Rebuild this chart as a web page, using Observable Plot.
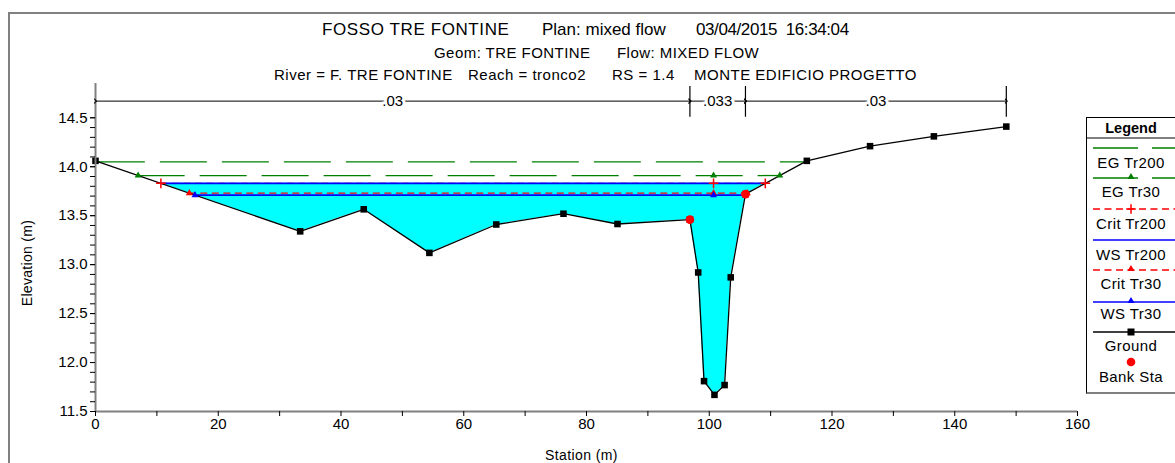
<!DOCTYPE html>
<html><head><meta charset="utf-8">
<script src="https://cdn.jsdelivr.net/npm/d3@7"></script>
<script src="https://cdn.jsdelivr.net/npm/@observablehq/plot@0.6"></script>
<style>
html,body{margin:0;padding:0;overflow:hidden;background:#fff;}
#wrap{position:relative;width:1175px;height:463px;font-family:"Liberation Sans",Arial,sans-serif;color:#000;overflow:hidden;}
#frame{position:absolute;left:8px;top:12px;width:1300px;height:600px;border-left:2px solid #808080;border-top:2px solid #808080;}
.t{position:absolute;white-space:pre;line-height:1;}
#chart{position:absolute;left:0;top:0;}
#legend{position:absolute;left:1086px;top:117px;width:92px;height:274px;border:1px solid #000;border-bottom:2px solid #808080;background:#fff;}
</style></head><body><div id="wrap"><div id="frame"></div><div id="chart"></div></div>
<script>
// ---------- data ----------
const groundStation = [0, 33.35, 43.7, 54.4, 65.3, 76.25, 85.05, 96.85, 98.2, 99.15, 100.85, 102.5, 103.5, 105.9, 115.9, 126.2, 136.6, 148.4];
const groundElev    = [14.06, 13.34, 13.565, 13.12, 13.41, 13.52, 13.415, 13.46, 12.92, 11.81, 11.67, 11.77, 12.87, 13.72, 14.06, 14.21, 14.31, 14.41];
const bankStation = [96.85, 105.9];
const profileName = ["EG Tr200", "EG Tr30", "Crit Tr200", "WS Tr200", "Crit Tr30", "WS Tr30"];
const profileElev = [14.05, 13.91, 13.83, 13.83, 13.73, 13.71];
const profileMidStation = 100.7;
const nValue = [".03", ".033", ".03"];
const nStation = [0, 96.85, 105.9, 148.4];
const xTickLabels = [0, 20, 40, 60, 80, 100, 120, 140, 160];
const xMinorTicks = [10, 30, 50, 70, 90, 110, 130, 150];
const yTickLabels = [11.5, 12.0, 12.5, 13.0, 13.5, 14.0, 14.5];
const yMinorTicks = d3.range(115, 146).map(d => d / 10);
const legendNames = ["EG Tr200", "EG Tr30", "Crit Tr200", "WS Tr200", "Crit Tr30", "WS Tr30", "Ground", "Bank Sta"];
const titleLine1 = ["FOSSO TRE FONTINE", "Plan: mixed flow", "03/04/2015  16:34:04"];
const titleLine2 = ["Geom: TRE FONTINE", "Flow: MIXED FLOW"];
const titleLine3 = ["River = F. TRE FONTINE", "Reach = tronco2", "RS = 1.4", "MONTE EDIFICIO PROGETTO"];

// ---------- styles / layout ----------
const styles = {
  "EG Tr200":  {stroke: "#008000", dash: "47,15", width: 1.3, symbol: null},
  "EG Tr30":   {stroke: "#008000", dash: "47,15", width: 1.3, symbol: "triangle"},
  "Crit Tr200":{stroke: "#ff0000", dash: "7,4.5", width: 1.3, symbol: "plus"},
  "WS Tr200":  {stroke: "#0000ff", dash: null, width: 1.6, symbol: null},
  "Crit Tr30": {stroke: "#ff0000", dash: "7,4.5", width: 1.3, symbol: "triangle"},
  "WS Tr30":   {stroke: "#0000ff", dash: null, width: 1.6, symbol: "triangle"}
};
const nBarElev = 14.67, nTickTop = 14.82, nTickBottom = 14.505;

// ---------- derived ----------
const ground = groundStation.map((x, i) => ({x, e: groundElev[i]}));
function crossings(level) {
  const xs = [];
  for (let i = 0; i < ground.length - 1; i++) {
    const a = ground[i], b = ground[i + 1];
    if ((a.e - level) * (b.e - level) < 0) xs.push(a.x + (level - a.e) / (b.e - a.e) * (b.x - a.x));
  }
  return [d3.min(xs), d3.max(xs)];
}
const profiles = profileName.map((name, i) => {
  const [left, right] = crossings(profileElev[i]);
  return {name, elev: profileElev[i], left, right};
});
const wsTop = profiles.find(p => p.name === "WS Tr200");
const water = [{x: wsTop.left, g: wsTop.elev}]
  .concat(ground.filter(d => d.x > wsTop.left && d.x < wsTop.right).map(d => ({x: d.x, g: d.e})))
  .concat([{x: wsTop.right, g: wsTop.elev}]);
const banks = bankStation.map(x => ({x, e: ground.find(d => d.x === x).e}));
const nSegs = nValue.map((v, i) => ({v, x1: nStation[i], x2: nStation[i + 1]}));

const marks = [];
marks.push(Plot.areaY(water, {x: "x", y1: "g", y2: () => wsTop.elev, fill: "#00ffff"}));
for (const p of profiles) {
  const s = styles[p.name];
  marks.push(Plot.ruleY([p], {y: "elev", x1: "left", x2: "right", stroke: s.stroke, strokeWidth: s.width, strokeDasharray: s.dash || undefined}));
}
marks.push(Plot.line(ground, {x: "x", y: "e", stroke: "#000", strokeWidth: 1.3}));
marks.push(Plot.dot(ground, {x: "x", y: "e", symbol: "square", r: 3.7, fill: "#000"}));
for (const p of profiles) {
  const s = styles[p.name];
  if (!s.symbol) continue;
  const pts = [p.left, profileMidStation, p.right].map(x => ({x, e: p.elev}));
  if (s.symbol === "plus") marks.push(Plot.dot(pts, {x: "x", y: "e", symbol: "plus", r: 3.2, stroke: s.stroke, strokeWidth: 1.5}));
  else marks.push(Plot.dot(pts, {x: "x", y: "e", symbol: s.symbol, r: 2.6, fill: s.stroke, stroke: "none"}));
}
marks.push(Plot.dot(banks, {x: "x", y: "e", r: 4.3, fill: "#ff0000"}));
// axes
marks.push(Plot.ruleY([11.5], {stroke: "#808080", strokeWidth: 2}));
marks.push(Plot.ruleX([0], {y1: 11.5, y2: 14.85, stroke: "#808080", strokeWidth: 2}));
marks.push(Plot.axisX({ticks: xTickLabels, tickSize: 5, tickPadding: 2, fontSize: 15, label: null, tickFormat: d => String(d)}));
marks.push(Plot.axisX({ticks: xMinorTicks, tickSize: 5, label: null, tickFormat: () => ""}));
marks.push(Plot.axisY({ticks: yTickLabels, tickSize: 5, tickPadding: 3, fontSize: 15, label: null, tickFormat: d3.format(".1f")}));
marks.push(Plot.axisY({ticks: yMinorTicks, tickSize: 5, label: null, tickFormat: () => ""}));
// Manning's n bar
marks.push(Plot.link(nSegs, {x1: "x1", x2: "x2", y1: () => nBarElev, y2: () => nBarElev, stroke: "#000", strokeWidth: 1, markerStart: "arrow", markerEnd: "arrow"}));
marks.push(Plot.ruleX(nStation.slice(1), {y1: nTickBottom, y2: nTickTop, stroke: "#000", strokeWidth: 1.2}));
marks.push(Plot.text(nSegs, {x: d => (d.x1 + d.x2) / 2, y: () => nBarElev, text: "v", fontSize: 15, fill: "#000", stroke: "#fff", strokeWidth: 6}));

const chart = Plot.plot({
  width: 1175, height: 463,
  marginLeft: 95, marginRight: 98, marginTop: 83, marginBottom: 52,
  x: {domain: [0, 160]},
  y: {domain: [11.5, 14.85]},
  style: {fontFamily: "'Liberation Sans', Arial, sans-serif", background: "transparent", color: "#000", overflow: "visible"},
  marks
});
document.getElementById("chart").appendChild(chart);

// ---------- text overlays ----------
const wrap = document.getElementById("wrap");
function addText(str, left, top, size, extra) {
  const d = document.createElement("div");
  d.className = "t";
  d.textContent = str;
  d.style.left = left + "px"; d.style.top = top + "px"; d.style.fontSize = size + "px";
  if (extra) Object.assign(d.style, extra);
  wrap.appendChild(d);
  return d;
}
const l1x = [322, 542, 696], l2x = [434, 617], l3x = [274, 468, 612, 694];
const l1sp = ["0.6px", "0px", "-0.4px"];
titleLine1.forEach((s, i) => addText(s, l1x[i], 21, 17, {letterSpacing: l1sp[i]}));
titleLine2.forEach((s, i) => addText(s, l2x[i], 45, 15, {letterSpacing: "0.45px"}));
titleLine3.forEach((s, i) => addText(s, l3x[i], 67, 15, {letterSpacing: "0.5px"}));
addText("Station (m)", 545, 448, 14, {letterSpacing: "0.4px"});
addText("Elevation (m)", -18, 256, 14, {transform: "rotate(-90deg)", transformOrigin: "50% 50%", width: "90px", textAlign: "center", letterSpacing: "0.3px"});

// ---------- legend ----------
const lg = document.createElement("div");
lg.id = "legend";
wrap.appendChild(lg);
const lsvg = d3.select(lg).append("svg").attr("width", 92).attr("height", 274).style("position", "absolute").style("left", "0px").style("top", "0px");
lsvg.append("line").attr("x1", 0).attr("x2", 92).attr("y1", 20).attr("y2", 20).attr("stroke", "#000");
lsvg.append("text").attr("x", 44).attr("y", 15).attr("text-anchor", "middle").attr("font-weight", "bold").attr("font-size", 14.5).attr("font-family", "'Liberation Sans', Arial").text("Legend");
const lineY = [30, 60, 91, 122, 152, 184, 214, 244];
const labelY = [50, 79, 111, 142, 171, 201, 233, 264];
legendNames.forEach((name, i) => {
  const s = styles[name];
  const cx = 44;
  if (s) {
    lsvg.append("line").attr("x1", 6).attr("x2", 92).attr("y1", lineY[i]).attr("y2", lineY[i])
      .attr("stroke", s.stroke).attr("stroke-width", s.width).attr("stroke-dasharray", s.dash === "47,15" ? "45,14" : s.dash);
    if (s.symbol === "triangle") lsvg.append("path").attr("d", d3.symbol(d3.symbolTriangle, 22)()).attr("transform", `translate(${cx},${lineY[i] - 1})`).attr("fill", s.stroke);
    if (s.symbol === "plus") lsvg.append("path").attr("d", d3.symbol(d3.symbolPlus, 32)()).attr("transform", `translate(${cx},${lineY[i]})`).attr("fill", "none").attr("stroke", s.stroke).attr("stroke-width", 1.5);
  } else if (name === "Ground") {
    lsvg.append("line").attr("x1", 6).attr("x2", 92).attr("y1", lineY[i]).attr("y2", lineY[i]).attr("stroke", "#000").attr("stroke-width", 1.3);
    lsvg.append("rect").attr("x", cx - 3.5).attr("y", lineY[i] - 3.5).attr("width", 7).attr("height", 7).attr("fill", "#000");
  } else {
    lsvg.append("circle").attr("cx", cx).attr("cy", lineY[i]).attr("r", 4.3).attr("fill", "#ff0000");
  }
  lsvg.append("text").attr("x", cx).attr("y", labelY[i]).attr("text-anchor", "middle").attr("font-size", 15).attr("letter-spacing", "0.4px").attr("font-family", "'Liberation Sans', Arial").text(name);
});
</script></body></html>
